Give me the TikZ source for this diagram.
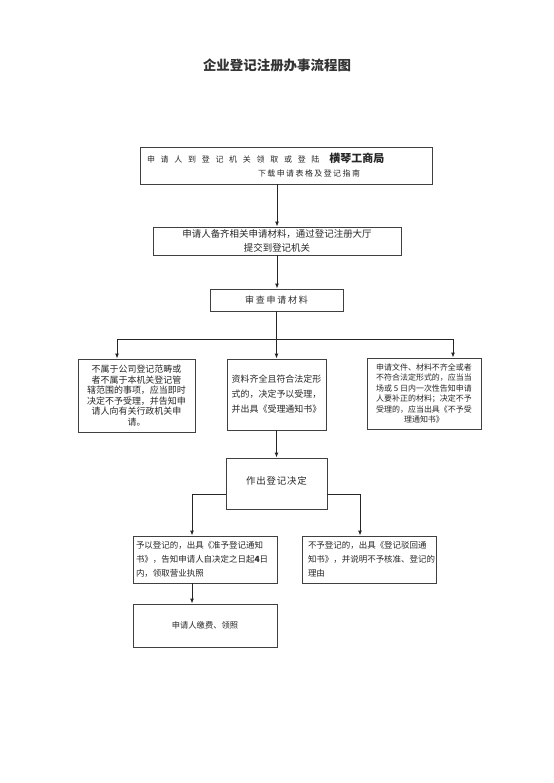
\documentclass[tikz,border=0pt]{standalone}
\usepackage{fontspec}
\setmainfont{Noto Sans CJK SC}
\usetikzlibrary{arrows.meta,positioning}
\tikzset{
  stepbox/.style={
    shape = rectangle,
    draw = black!75,
    line width = 0.8pt,
    inner sep = 0pt,
    text = black!85
  },
  link/.style={
    line width = 1pt,
    draw = black!85
  },
  flow/.style={
    link,
    -{Latex[length=5pt,width=4pt]}
  },
  title/.style={
    font = \fontsize{13.5}{15}\selectfont\bfseries,
    text = black!80
  }
}

\begin{document}
\begin{tikzpicture}[x=1bp,y=-1bp]
    \useasboundingbox (0,0) rectangle (554,783);
    \node[title] (head) at (277,65) {企业登记注册办事流程图};
    % main column
    \node[stepbox, text width=278bp, inner xsep=7bp, minimum height=37bp, align=left,
          font=\fontsize{8}{14}\selectfont] (apply) at (286,165.5)
        {{\addfontfeature{LetterSpace=72}申请人到登记机关领取或登陆}\hspace{10bp}{\bfseries\fontsize{11}{12}\selectfont 横琴工商局}\\
         \hspace*{111bp}{\addfontfeature{LetterSpace=18}下载申请表格及登记指南}};
    \node[stepbox, minimum width=248bp, minimum height=28bp, align=center,
          font=\fontsize{9.5}{14}\selectfont] (submit) at (277,241)
        {申请人备齐相关申请材料，通过登记注册大厅\\提交到登记机关};
    \node[stepbox, minimum width=133bp, minimum height=22bp,
          font=\fontsize{9}{11}\selectfont\addfontfeature{LetterSpace=20}] (review) at (276.5,300)
        {审查申请材料};
    % three outcomes of the review
    \node[stepbox, minimum width=117bp, minimum height=73bp, align=center,
          font=\fontsize{9}{10.5}\selectfont] (reject) at (136.5,395.5)
        {不属于公司登记范畴或\\者不属于本机关登记管\\辖范围的事项，应当即时\\决定不予受理，并告知申\\请人向有关行政机关申\\请。};
    \node[stepbox, minimum width=99bp, minimum height=71bp, align=left,
          font=\fontsize{9}{15}\selectfont] (accept) at (276.5,394.5)
        {资料齐全且符合法定形\\式的，决定予以受理，\\并出具《受理通知书》};
    \node[stepbox, minimum width=114bp, minimum height=71bp, align=center,
          font=\fontsize{8}{10.5}\selectfont] (notify) at (424,393.5)
        {申请文件、材料不齐全或者\\不符合法定形式的，应当当\\场或 5 日内一次性告知申请\\人要补正的材料；决定不予\\受理的，应当出具《不予受\\理通知书》};
    \node[stepbox, minimum width=101bp, minimum height=51bp,
          font=\fontsize{9.5}{11}\selectfont\addfontfeature{LetterSpace=8}] (decide) at (276.5,483.5)
        {作出登记决定\rule[-7bp]{0pt}{0pt}};
    % decision
    \node[stepbox, text width=138bp, inner xsep=3bp, minimum height=47bp, align=left,
          font=\fontsize{8.5}{14}\selectfont] (grant) at (205,559.5)
        {予以登记的，出具《准予登记通知\\书》，告知申请人自决定之日起\textbf{4}日\\内，领取营业执照};
    \node[stepbox, text width=122bp, inner xsep=6bp, minimum height=47bp, align=left,
          font=\fontsize{8.5}{14}\selectfont] (deny) at (369,559.5)
        {不予登记的，出具《登记驳回通\\知书》，并说明不予核准、登记的\\理由};
    \node[stepbox, minimum width=144bp, minimum height=43bp,
          font=\fontsize{8.3}{10}\selectfont] (collect) at (205,625.5)
        {申请人缴费、领照};

    \coordinate (fork)  at (276.5,339);
    \coordinate (forkL) at (117,339);
    \coordinate (forkR) at (453,339);
    \coordinate (splitL) at (192,494);
    \coordinate (splitR) at (360,494);

    \draw[flow] (apply.south -| submit.north) -- (submit.north);
    \draw[flow] (submit.south) -- (submit.south |- review.north);
    \draw[link] (review.south) -- (fork);
    \draw[link] (forkL) -- (forkR);
    \foreach \c/\b in {forkL/reject, fork/accept, forkR/notify}{
        \draw[flow] (\c) -- (\c |- \b.north);
    }
    \draw[flow] (accept.south) -- (decide.north);
    \draw[flow] (decide.west |- splitL) -| (splitL |- grant.north);
    \draw[flow] (decide.east |- splitR) -| (splitR |- deny.north);
    \draw[flow] (grant.south -| splitL) -- (collect.north -| splitL);
\end{tikzpicture}
\end{document}
